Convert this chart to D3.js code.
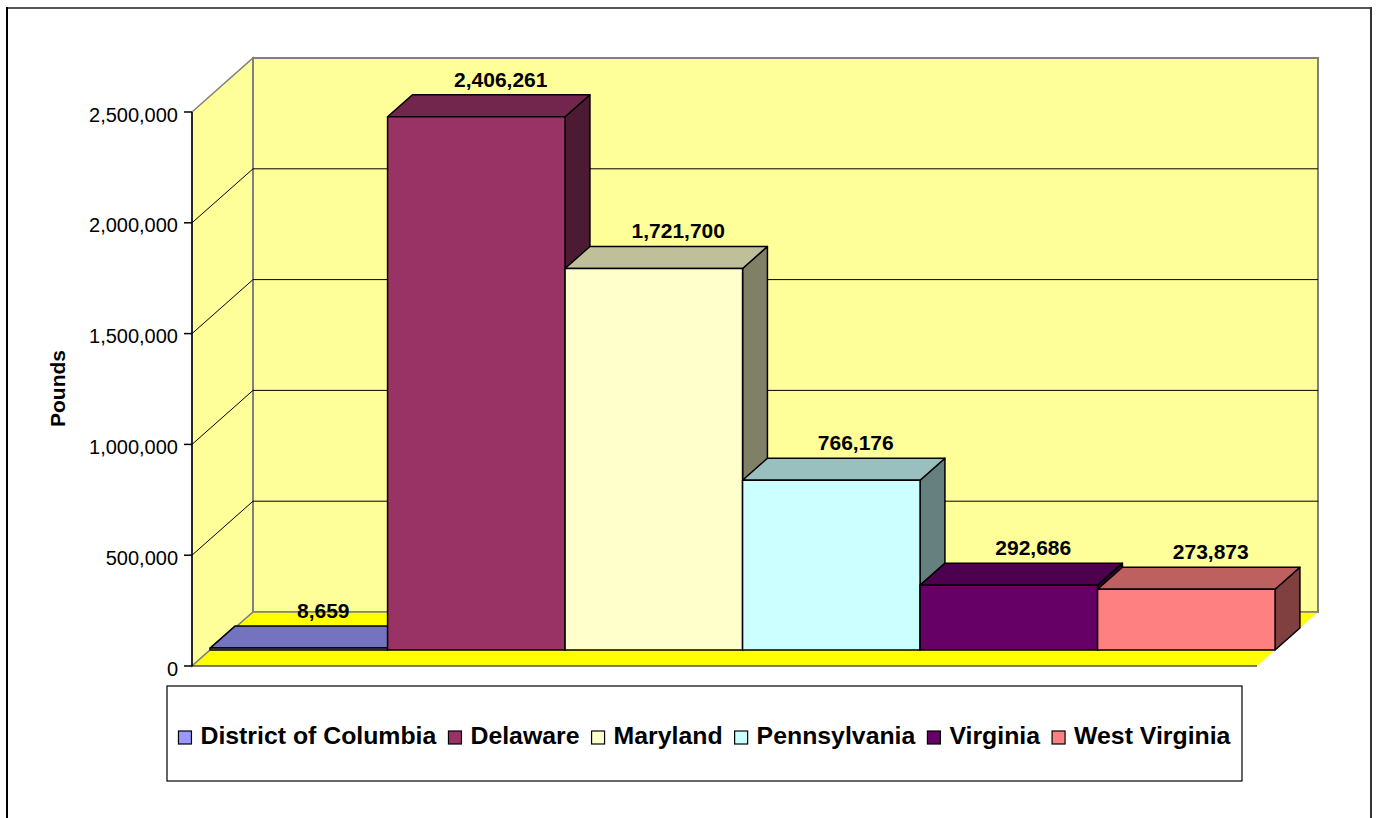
<!DOCTYPE html>
<html><head><meta charset="utf-8">
<script src="https://cdn.jsdelivr.net/npm/d3@7"></script>
<style>body{margin:0;background:#fff}svg{display:block}text{font-family:Arial,"Liberation Sans",sans-serif}</style>
</head><body>
<svg id="c" width="1377" height="818"></svg>
<script>
const categories = ["District of Columbia","Delaware","Maryland","Pennsylvania","Virginia","West Virginia"];
const values = [8659, 2406261, 1721700, 766176, 292686, 273873];
const colors = ["#9999FF","#993366","#FFFFCC","#CCFFFF","#660066","#FF8080"];
const tickValues = [0, 500000, 1000000, 1500000, 2000000, 2500000];
const yTitle = "Pounds";

const svg = d3.select("#c");
const fmt = d3.format(",");
const DX = 61, DY = -54;           // wall depth vector
const y = d3.scaleLinear().domain([0, 2500000]).range([666, 112]);
const x = d3.scaleBand().domain(categories).range([192, 1257]).padding(0);
const f0 = 16/54, f1 = 38/54;      // bar depth fractions
const pt = (px, v, f) => [px + DX*f, y(v) + DY*f];
const poly = pts => pts.map(p => p.join(",")).join(" ");
const yMax = tickValues[tickValues.length-1];

// outer border
svg.append("line").attr("x1",7).attr("y1",8).attr("x2",1371).attr("y2",8).attr("stroke","#555").attr("stroke-width",2);
svg.append("line").attr("x1",7).attr("y1",7).attr("x2",7).attr("y2",818).attr("stroke","#000").attr("stroke-width",2);
svg.append("line").attr("x1",1371).attr("y1",7).attr("x2",1371).attr("y2",818).attr("stroke","#333").attr("stroke-width",2);

const x0 = x.range()[0], x1 = x.range()[1];
// side wall
svg.append("polygon").attr("points", poly([[x0,y(yMax)],[x0+DX,y(yMax)+DY],[x0+DX,y(0)+DY],[x0,y(0)]]))
  .attr("fill","#FFFF99").attr("stroke","#808080").attr("stroke-width",1.5);
// back wall
svg.append("rect").attr("x",x0+DX).attr("y",y(yMax)+DY).attr("width",x1-x0).attr("height",y(0)-y(yMax))
  .attr("fill","#FFFF99").attr("stroke","#808080").attr("stroke-width",2);
// gridlines
tickValues.filter(t => t>0 && t<yMax).forEach(t => {
  svg.append("line").attr("x1",x0+DX).attr("x2",x1+DX).attr("y1",y(t)+DY).attr("y2",y(t)+DY).attr("stroke","#000").attr("stroke-width",1);
  svg.append("line").attr("x1",x0).attr("x2",x0+DX).attr("y1",y(t)).attr("y2",y(t)+DY).attr("stroke","#000").attr("stroke-width",1);
});
// floor
svg.append("polygon").attr("points", poly([[x0,y(0)],[x1,y(0)],[x1+DX,y(0)+DY],[x0+DX,y(0)+DY]])).attr("fill","#FFFF00");
svg.append("line").attr("x1",x0+DX).attr("x2",x1+DX).attr("y1",y(0)+DY).attr("y2",y(0)+DY).attr("stroke","#808080").attr("stroke-width",1.5);
svg.append("line").attr("x1",x0).attr("y1",y(0)).attr("x2",x0+DX).attr("y2",y(0)+DY).attr("stroke","#808080").attr("stroke-width",1.5);
svg.append("line").attr("x1",x0).attr("x2",x1).attr("y1",y(0)).attr("y2",y(0)).attr("stroke","#000").attr("stroke-width",1);

// value axis
svg.append("line").attr("x1",x0).attr("x2",x0).attr("y1",y(yMax)).attr("y2",y(0)).attr("stroke","#000").attr("stroke-width",1.5);
const ax = svg.append("g");
tickValues.forEach(t => {
  ax.append("line").attr("x1",x0-8).attr("x2",x0).attr("y1",y(t)).attr("y2",y(t)).attr("stroke","#000").attr("stroke-width",1.5);
  ax.append("text").attr("x",x0-14).attr("y",y(t)+9.5).attr("text-anchor","end").attr("font-size",20).attr("fill","#000").text(fmt(t));
});
svg.append("text").attr("transform",`translate(65,388.5) rotate(-90)`).attr("text-anchor","middle")
  .attr("font-size",21).attr("font-weight","bold").text(yTitle);

// bars
const shade = (c,k) => { const r = d3.rgb(c); return d3.rgb(r.r*k, r.g*k, r.b*k).formatHex(); };
const bw = x.bandwidth();
categories.forEach((cat,i) => {
  const v = values[i], L = x(cat), R = L + bw;
  const g = svg.append("g").attr("stroke","#000").attr("stroke-width",1.5).attr("stroke-linejoin","round");
  g.append("polygon").attr("points", poly([pt(R,v,f0),pt(R,v,f1),pt(R,0,f1),pt(R,0,f0)])).attr("fill",shade(colors[i],0.5));
  g.append("polygon").attr("points", poly([pt(L,v,f0),pt(R,v,f0),pt(R,v,f1),pt(L,v,f1)])).attr("fill",shade(colors[i],0.75));
  g.append("polygon").attr("points", poly([pt(L,v,f0),pt(R,v,f0),pt(R,0,f0),pt(L,0,f0)])).attr("fill",colors[i]);
});
// value labels
categories.forEach((cat,i) => {
  const v = values[i];
  const cx = x(cat) + bw/2 + DX*(f0+f1)/2 + 12;
  svg.append("text").attr("x",cx).attr("y",Math.min(y(v)+DY*f1-8, y(0)+DY+14)).attr("text-anchor","middle")
    .attr("font-size",21).attr("font-weight","bold").text(fmt(v));
});

// legend
const lg = svg.append("g");
lg.append("rect").attr("x",167).attr("y",686).attr("width",1075).attr("height",95).attr("fill","#fff").attr("stroke","#000").attr("stroke-width",1.2);
const sx = 1.08, sw = 13, gap1 = 9, gap2 = 12;
const items = categories.map((cat,i) => {
  const t = lg.append("text").attr("font-size",23).attr("font-weight","bold").text(cat);
  return {t, w: t.node().getComputedTextLength()*sx, i};
});
const total = d3.sum(items, d => sw+gap1+d.w) + gap2*(items.length-1);
let cx = 167 + 1075/2 - total/2;
items.forEach(d => {
  lg.append("rect").attr("x",cx).attr("y",731).attr("width",sw).attr("height",sw)
    .attr("fill",colors[d.i]).attr("stroke","#000").attr("stroke-width",1.2);
  d.t.attr("transform",`translate(${cx+sw+gap1},744) scale(${sx},1)`);
  cx += sw + gap1 + d.w + gap2;
});
</script>
</body></html>
